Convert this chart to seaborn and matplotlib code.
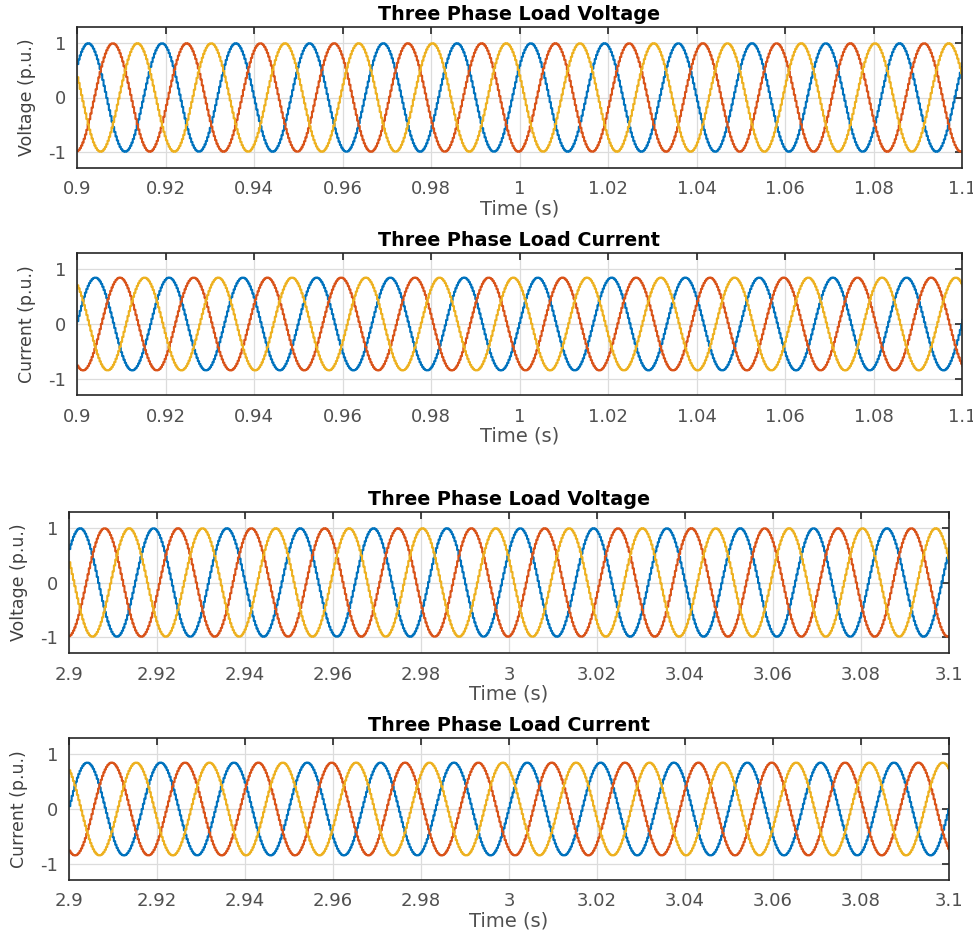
import numpy as np
import pandas as pd
import matplotlib
matplotlib.use("Agg")
import matplotlib.pyplot as plt
import seaborn as sns

# ---- data ----
titles = ["Three Phase Load Voltage", "Three Phase Load Current",
          "Three Phase Load Voltage", "Three Phase Load Current"]
ylabels = ["Voltage (p.u.)", "Current (p.u.)", "Voltage (p.u.)", "Current (p.u.)"]
t_starts = [0.9, 0.9, 2.9, 2.9]
t_ends = [1.1, 1.1, 3.1, 3.1]
amplitudes = [1.0, 0.85, 1.0, 0.85]          # peak value, p.u.
phase_a_deg = [38.0, 3.5, 38.0, 3.5]         # phase A angle at the window start
phase_shift_deg = [0.0, -120.0, 120.0]       # phases A, B, C
phase_names = ["A", "B", "C"]
freq_hz = 60.0
sample_time = 3e-4
xticks_list = [[0.9, 0.92, 0.94, 0.96, 0.98, 1.0, 1.02, 1.04, 1.06, 1.08, 1.1]] * 2 + \
              [[2.9, 2.92, 2.94, 2.96, 2.98, 3.0, 3.02, 3.04, 3.06, 3.08, 3.1]] * 2
xticklabels_list = [["0.9", "0.92", "0.94", "0.96", "0.98", "1", "1.02", "1.04", "1.06", "1.08", "1.1"]] * 2 + \
                   [["2.9", "2.92", "2.94", "2.96", "2.98", "3", "3.02", "3.04", "3.06", "3.08", "3.1"]] * 2
yticks = [-1, 0, 1]
ytick_labels = ["-1", "0", "1"]
colors = ["#0072BD", "#D95319", "#EDB120"]

sns.set_theme(style="white")
plt.rcParams["font.family"] = ["DejaVu Sans"]

fig = plt.figure(figsize=(9.73, 9.35), dpi=100)
W, H = 973, 935
boxes = [(77, 962, 27, 168), (77, 962, 253, 395), (69, 949, 512, 653), (69, 949, 738, 880)]

for i, (l, r, t, b) in enumerate(boxes):
    ax = fig.add_axes([l / W, 1 - b / H, (r - l) / W, (b - t) / H])
    tt = np.arange(t_starts[i], t_ends[i] + sample_time / 2, sample_time)
    frames = []
    for name, sh in zip(phase_names, phase_shift_deg):
        y = amplitudes[i] * np.sin(2 * np.pi * freq_hz * (tt - t_starts[i])
                                   + np.deg2rad(phase_a_deg[i] + sh))
        frames.append(pd.DataFrame({"t": tt, "v": y, "phase": name}))
    df = pd.concat(frames, ignore_index=True)
    sns.lineplot(data=df, x="t", y="v", hue="phase", palette=colors, ax=ax,
                 drawstyle="steps-post", linewidth=1.5, legend=False,
                 estimator=None, sort=False)
    ax.set_xlim(t_starts[i], t_ends[i])
    ax.set_ylim(-1.3, 1.3)
    ax.set_xticks(xticks_list[i])
    ax.set_xticklabels(xticklabels_list[i])
    ax.set_yticks(yticks)
    ax.set_yticklabels(ytick_labels)
    ax.grid(True, color="#dcdcdc", linewidth=0.9)
    ax.set_axisbelow(True)
    ax.tick_params(direction="in", length=5, width=1.2, top=True, right=True,
                   labelsize=13, labelcolor="#505050", colors="#262626")
    ax.tick_params(axis="x", pad=9)
    ax.tick_params(axis="y", pad=8)
    for s in ax.spines.values():
        s.set_color("#262626")
        s.set_linewidth(1.2)
    ax.set_xlabel("Time (s)", fontsize=14, color="#505050", labelpad=1)
    ax.set_ylabel(ylabels[i], fontsize=12.5, color="#404040", labelpad=9)
    ax.set_title(titles[i], fontsize=13.8, fontweight="bold", color="black", pad=5)

fig.savefig("out.png", dpi=100, facecolor="white")
